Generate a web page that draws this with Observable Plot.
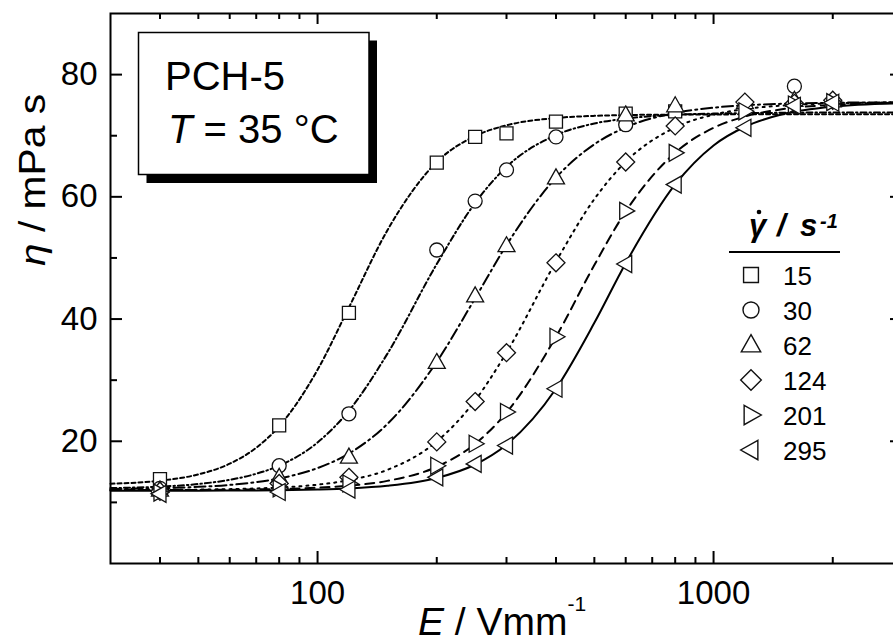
<!DOCTYPE html>
<html><head><meta charset="utf-8">
<script src="https://cdn.jsdelivr.net/npm/d3@7"></script>
<script src="https://cdn.jsdelivr.net/npm/@observablehq/plot@0.6"></script>
<style>
html,body{margin:0;padding:0;background:#fff;overflow:hidden;}
#chart{position:relative;width:893px;height:643px;overflow:hidden;}
</style>
</head><body><div id="chart"></div>
<script>
const FONT = "Arial, 'Liberation Sans', Helvetica, sans-serif";

// Shear-rate series (legend labels, 1/s)
const rates = ["15", "30", "62", "124", "201", "295"];

// Measured points: electric field E (V/mm) and viscosity eta (mPa s); null = not visible
const E_pts = [40, 80, 120, 200, 250, 300, 400, 600, 800, 1200, 1600, 2000];
const eta15  = [13.8, 22.6, 41.0, 65.6, 69.8, 70.4, 72.3, 73.6, 74.0, null, null, null];
const eta30  = [12.3, 16.0, 24.5, 51.3, 59.3, 64.4, 69.8, 71.8, null, null, 78.1, null];
const eta62  = [12.0, 14.1, 17.4, 32.9, 43.8, 52.0, 63.1, 73.4, 74.9, 75.4, 75.8, 75.7];
const eta124 = [11.8, 13.1, 14.1, 19.9, 26.5, 34.5, 49.2, 65.7, 71.6, 75.5, 75.3, 75.8];
const eta201 = [11.6, 12.3, 13.1, 16.0, 19.6, 24.8, 37.1, 57.7, 67.2, 74.0, 75.1, 75.5];
const eta295 = [11.4, 11.7, 12.1, 14.1, 16.3, 19.3, 28.6, 49.0, 62.0, 71.3, 74.9, 75.4];

// Fitted curves
const E_fit = [30, 40, 50, 60, 70, 80, 100, 120, 150, 200, 250, 300, 400, 500, 600, 800, 1000, 1200, 1500, 2000, 3000];
const fit15  = [13.05, 13.56, 14.58, 16.33, 18.94, 22.45, 31.7, 41.9, 54.5, 65.7, 69.95, 71.7, 72.9, 73.25, 73.38, 73.46, 73.48, 73.5, 73.5, 73.5, 73.5];
const fit30  = [12.34, 12.58, 13.01, 13.69, 14.68, 16.01, 19.8, 25.0, 34.3, 49.0, 59.0, 64.9, 70.1, 72.0, 72.8, 73.43, 73.62, 73.7, 73.75, 73.8, 73.8];
const fit62  = [12.19, 12.32, 12.54, 12.86, 13.32, 13.92, 15.61, 18.0, 22.81, 33.0, 43.41, 52.1, 63.14, 68.6, 71.37, 73.72, 74.59, 74.98, 75.23, 75.39, 75.47];
const fit124 = [12.02, 12.04, 12.09, 12.17, 12.28, 12.43, 12.9, 13.63, 15.32, 19.97, 26.68, 34.52, 49.4, 59.63, 65.73, 71.35, 73.45, 74.36, 74.95, 75.29, 75.45];
const fit201 = [12.01, 12.02, 12.04, 12.07, 12.12, 12.19, 12.40, 12.73, 13.52, 15.83, 19.58, 24.7, 37.1, 48.84, 57.6, 67.22, 71.29, 73.14, 74.36, 75.06, 75.39];
const fit295 = [11.9, 11.91, 11.92, 11.94, 11.96, 12.0, 12.11, 12.28, 12.71, 13.99, 16.2, 19.44, 28.6, 39.38, 49.14, 62.02, 68.41, 71.47, 73.55, 74.75, 75.31];

// Axis ticks
const xMajor = [100, 1000];
const xMinor = [40, 50, 60, 70, 80, 90, 200, 300, 400, 500, 600, 700, 800, 900, 2000];
const yMajor = [20, 40, 60, 80];
const yMinor = [10, 30, 50, 70];

// Custom hollow symbols (drawn relative to r = 7)
const poly = (pts) => ({draw(ctx, size) {
  const k = Math.sqrt(size / Math.PI) / 7;
  ctx.moveTo(pts[0][0] * k, pts[0][1] * k);
  for (let i = 1; i < pts.length; i++) ctx.lineTo(pts[i][0] * k, pts[i][1] * k);
  ctx.closePath();
}});
const symSquare = poly([[-6.5, -6.5], [6.5, -6.5], [6.5, 6.5], [-6.5, 6.5]]);
const symCircle = {draw(ctx, size) { const r = Math.sqrt(size / Math.PI); ctx.moveTo(r, 0); ctx.arc(0, 0, r, 0, 2 * Math.PI); ctx.closePath(); }};
const symUp = poly([[0, -9], [8.5, 6], [-8.5, 6]]);
const symDiamond = poly([[0, -9], [9, 0], [0, 9], [-9, 0]]);
const symRight = poly([[-6, -8.5], [9, 0], [-6, 8.5]]);
const symLeft = poly([[6, -8.5], [-9, 0], [6, 8.5]]);

const series = [
  {pts: eta15, fit: fit15, sym: symSquare, dash: "4,3"},
  {pts: eta30, fit: fit30, sym: symCircle, dash: "6,3,1.5,3"},
  {pts: eta62, fit: fit62, sym: symUp, dash: "11,4,2,4"},
  {pts: eta124, fit: fit124, sym: symDiamond, dash: "2,5"},
  {pts: eta201, fit: fit201, sym: symRight, dash: "9,6"},
  {pts: eta295, fit: fit295, sym: symLeft, dash: null}
];

const W = 905, H = 643, mL = 110, mR = 3, mT = 13, mB = 80;
const PW = W - mL - mR, PH = H - mT - mB;

const marks = [];
for (const s of series) {
  const d = E_fit.map((E, i) => ({E, eta: s.fit[i]}));
  marks.push(Plot.line(d, {x: "E", y: "eta", curve: "monotone-x", stroke: "black", strokeWidth: 2, strokeDasharray: s.dash || undefined}));
}
for (const s of series) {
  const d = E_pts.map((E, i) => ({E, eta: s.pts[i]})).filter(p => p.eta != null);
  marks.push(Plot.dot(d, {x: "E", y: "eta", symbol: s.sym, r: 7, fill: "white", stroke: "#111", strokeWidth: 1.3}));
}
// inward ticks on all four sides
marks.push(
  Plot.tickX(xMajor, {x: d => d, insetTop: PH - 12, stroke: "black", strokeWidth: 2}),
  Plot.tickX(xMinor, {x: d => d, insetTop: PH - 6, stroke: "black", strokeWidth: 2}),
  Plot.tickX(xMajor, {x: d => d, insetBottom: PH - 11, stroke: "black", strokeWidth: 2}),
  Plot.tickX(xMinor, {x: d => d, insetBottom: PH - 6, stroke: "black", strokeWidth: 2}),
  Plot.tickY(yMajor, {y: d => d, insetRight: PW - 12, stroke: "black", strokeWidth: 2}),
  Plot.tickY(yMinor, {y: d => d, insetRight: PW - 7, stroke: "black", strokeWidth: 2}),
  Plot.tickY(yMajor, {y: d => d, insetLeft: PW - 12, stroke: "black", strokeWidth: 2}),
  Plot.tickY(yMinor, {y: d => d, insetLeft: PW - 7, stroke: "black", strokeWidth: 2}),
  Plot.frame({stroke: "black", strokeWidth: 2}),
  Plot.axisX({ticks: xMajor, tickFormat: d => String(d), tickSize: 0, tickPadding: 17, label: null, fontSize: 33}),
  Plot.axisY({ticks: yMajor, tickSize: 0, tickPadding: 13, label: null, fontSize: 33})
);

const chart = Plot.plot({
  width: W, height: H,
  marginLeft: mL, marginRight: mR, marginTop: mT, marginBottom: mB,
  x: {type: "log", domain: [30, 3000]},
  y: {domain: [0, 90]},
  style: {fontFamily: FONT, fontSize: "33px", maxWidth: "none", background: "white", color: "black"},
  marks
});
document.getElementById("chart").appendChild(chart);

// Annotations: titles, sample box, legend
const svg = d3.select(chart);
const g = svg.append("g").attr("font-family", FONT).attr("fill", "black").attr("text-anchor", "start");

// y title
const yt = g.append("text")
  .attr("transform", "translate(45,180) rotate(-90)")
  .attr("text-anchor", "middle").attr("font-size", 36)
  .attr("textLength", 172).attr("lengthAdjust", "spacingAndGlyphs");
yt.append("tspan").attr("font-style", "italic").text("η");
yt.append("tspan").text(" / mPa s");

// x title
const xt = g.append("text").attr("x", 418).attr("y", 635).attr("font-size", 39);
xt.append("tspan").attr("font-style", "italic").text("E");
xt.append("tspan").text(" / Vmm");
xt.append("tspan").attr("font-size", 21).attr("dy", -24).text("-1");

// sample box with shadow
g.append("rect").attr("x", 146.5).attr("y", 40.5).attr("width", 230.5).attr("height", 142.5).attr("fill", "black");
g.append("rect").attr("x", 138.5).attr("y", 32.5).attr("width", 230.5).attr("height", 142).attr("fill", "white").attr("stroke", "black").attr("stroke-width", 1.5);
g.append("text").attr("x", 165).attr("y", 90).attr("font-size", 40).text("PCH-5");
const t2 = g.append("text").attr("x", 168).attr("y", 143).attr("font-size", 40);
t2.append("tspan").attr("font-style", "italic").text("T");
t2.append("tspan").text(" = 35 °C");

// legend header
const lh = g.append("text").attr("y", 236).attr("font-size", 31).attr("font-weight", "bold").attr("font-style", "italic");
lh.append("tspan").attr("x", 749).text("γ");
lh.append("tspan").attr("x", 777).text("/");
lh.append("tspan").attr("x", 800).text("s");
lh.append("tspan").attr("x", 820).attr("y", 228).attr("font-size", 20).text("-1");
g.append("circle").attr("cx", 759).attr("cy", 212).attr("r", 2.3).attr("fill", "black");
g.append("line").attr("x1", 729).attr("x2", 840).attr("y1", 252).attr("y2", 252).attr("stroke", "black").attr("stroke-width", 2);

// legend entries
series.forEach((s, i) => {
  const cy = 275 + 35 * i;
  g.append("path").attr("transform", `translate(751,${cy})`)
    .attr("d", d3.symbol(s.sym, Math.PI * 8 * 8)())
    .attr("fill", "white").attr("stroke", "#111").attr("stroke-width", 1.4);
  g.append("text").attr("x", 783).attr("y", cy + 9.5).attr("font-size", 26).text(rates[i]);
});
</script>
</body></html>
